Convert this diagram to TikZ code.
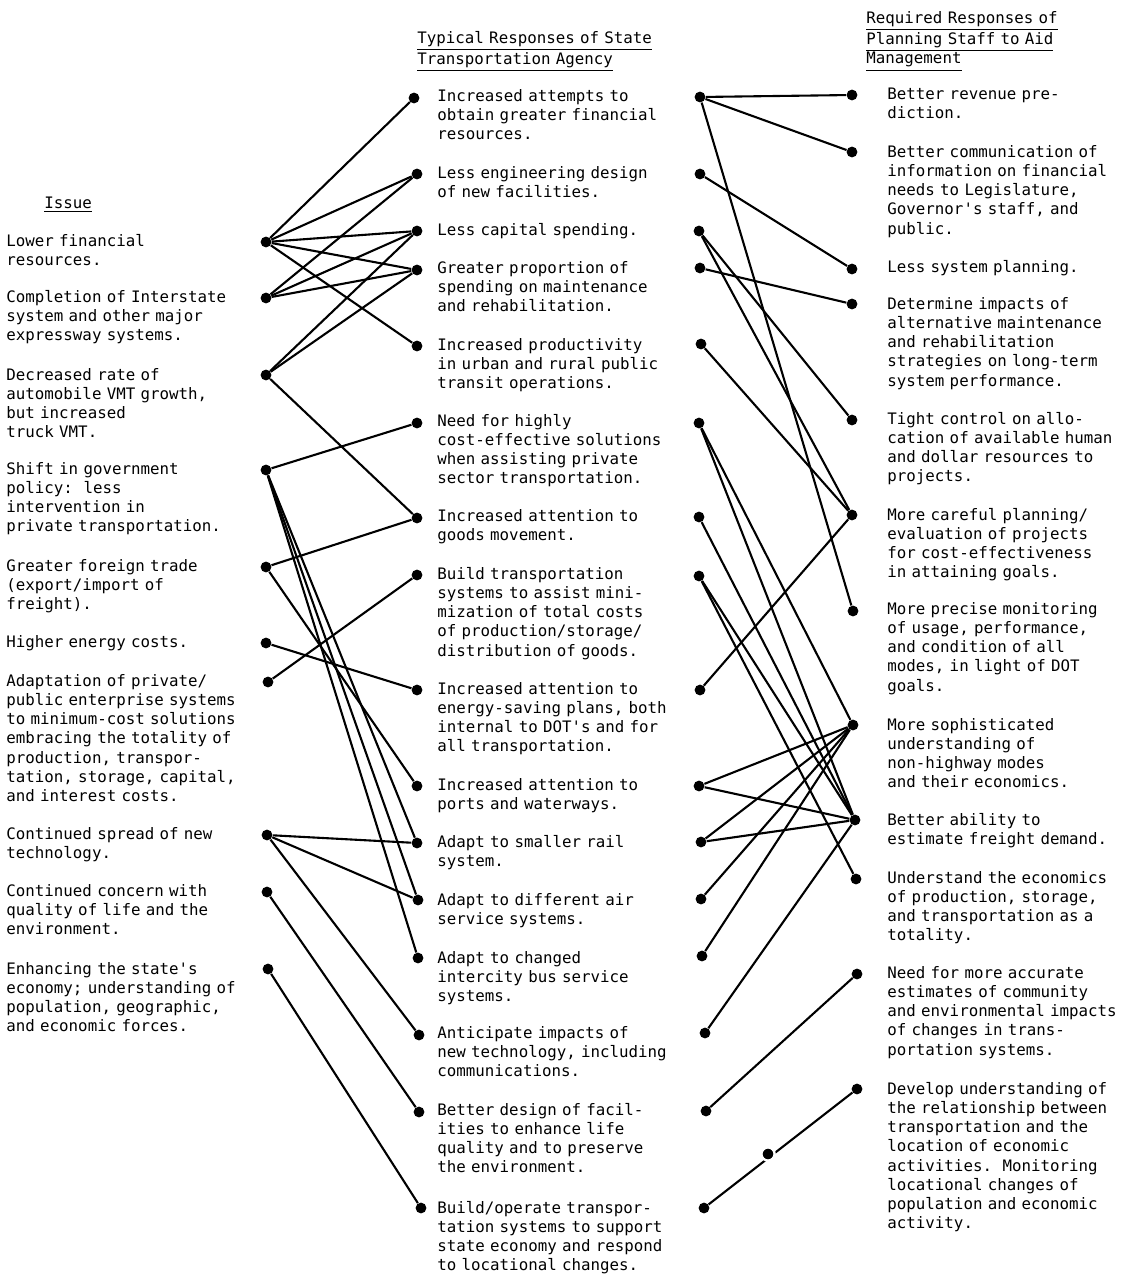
\documentclass[tikz,border=0pt]{standalone}
\usepackage{fontspec}
\setmonofont{DejaVu Sans Mono}
\begin{document}
\begin{tikzpicture}[
  x=0.5pt,y=-0.5pt,
  dot/.style={circle,fill=black,inner sep=0pt,minimum size=5.4pt},
  txt/.style={anchor=base west,yshift=-2.6pt,inner sep=0pt,text width=140pt,align=left,
    font=\ttfamily\frenchspacing\fontsize{7.9}{9.6}\selectfont},
  link/.style={line width=1.05pt,draw=black}
]
\useasboundingbox (0,0) rectangle (1128,1275);
% column headings
\node[txt] (hIssue) at (44,203) {\underline{Issue}};
\node[txt] (hTypical) at (417,38) {\underline{Typical Responses of State}\\\underline{Transportation Agency}};
\node[txt] (hRequired) at (866,18) {\underline{Required Responses of}\\\underline{Planning Staff to Aid}\\\underline{Management}};
% issues
\node[txt] (isT1) at (6,241) {Lower financial\\resources.};
\node[txt] (isT2) at (6,297) {Completion of Interstate\\system and other major\\expressway systems.};
\node[txt] (isT3) at (6,375) {Decreased rate of\\automobile VMT growth,\\but increased\\truck VMT.};
\node[txt] (isT4) at (6,469) {Shift in government\\policy:~~less\\intervention in\\private transportation.};
\node[txt] (isT5) at (6,566) {Greater foreign trade\\(export/import of\\freight).};
\node[txt] (isT6) at (6,642) {Higher energy costs.};
\node[txt] (isT7) at (6,681) {Adaptation of private/\\public enterprise systems\\to minimum-cost solutions\\embracing the totality of\\production, transpor-\\tation, storage, capital,\\and interest costs.};
\node[txt] (isT8) at (6,834) {Continued spread of new\\technology.};
\node[txt] (isT9) at (6,891) {Continued concern with\\quality of life and the\\environment.};
\node[txt] (isT10) at (6,969) {Enhancing the state's\\economy; understanding of\\population, geographic,\\and economic forces.};
% typical responses
\node[txt] (tT1) at (437,96) {Increased attempts to\\obtain greater financial\\resources.};
\node[txt] (tT2) at (437,173) {Less engineering design\\of new facilities.};
\node[txt] (tT3) at (437,230) {Less capital spending.};
\node[txt] (tT4) at (437,268) {Greater proportion of\\spending on maintenance\\and rehabilitation.};
\node[txt] (tT5) at (437,345) {Increased productivity\\in urban and rural public\\transit operations.};
\node[txt] (tT6) at (437,421) {Need for highly\\cost-effective solutions\\when assisting private\\sector transportation.};
\node[txt] (tT7) at (437,516) {Increased attention to\\goods movement.};
\node[txt] (tT8) at (437,574) {Build transportation\\systems to assist mini-\\mization of total costs\\of production/storage/\\distribution of goods.};
\node[txt] (tT9) at (437,689) {Increased attention to\\energy-saving plans, both\\internal to DOT's and for\\all transportation.};
\node[txt] (tT10) at (437,785) {Increased attention to\\ports and waterways.};
\node[txt] (tT11) at (437,842) {Adapt to smaller rail\\system.};
\node[txt] (tT12) at (437,900) {Adapt to different air\\service systems.};
\node[txt] (tT13) at (437,958) {Adapt to changed\\intercity bus service\\systems.};
\node[txt] (tT14) at (437,1033) {Anticipate impacts of\\new technology, including\\communications.};
\node[txt] (tT15) at (437,1110) {Better design of facil-\\ities to enhance life\\quality and to preserve\\the environment.};
\node[txt] (tT16) at (437,1208) {Build/operate transpor-\\tation systems to support\\state economy and respond\\to locational changes.};
% required responses
\node[txt] (qT1) at (887,94) {Better revenue pre-\\diction.};
\node[txt] (qT2) at (887,152) {Better communication of\\information on financial\\needs to Legislature,\\Governor's staff, and\\public.};
\node[txt] (qT3) at (887,267) {Less system planning.};
\node[txt] (qT4) at (887,304) {Determine impacts of\\alternative maintenance\\and rehabilitation\\strategies on long-term\\system performance.};
\node[txt] (qT5) at (887,419) {Tight control on allo-\\cation of available human\\and dollar resources to\\projects.};
\node[txt] (qT6) at (887,515) {More careful planning/\\evaluation of projects\\for cost-effectiveness\\in attaining goals.};
\node[txt] (qT7) at (887,609) {More precise monitoring\\of usage, performance,\\and condition of all\\modes, in light of DOT\\goals.};
\node[txt] (qT8) at (887,725) {More sophisticated\\understanding of\\non-highway modes\\and their economics.};
\node[txt] (qT9) at (887,820) {Better ability to\\estimate freight demand.};
\node[txt] (qT10) at (887,878) {Understand the economics\\of production, storage,\\and transportation as a\\totality.};
\node[txt] (qT11) at (887,973) {Need for more accurate\\estimates of community\\and environmental impacts\\of changes in trans-\\portation systems.};
\node[txt] (qT12) at (887,1089) {Develop understanding of\\the relationship between\\transportation and the\\location of economic\\activities.~~Monitoring\\locational changes of\\population and economic\\activity.};
% dots
\node[dot] (is1) at (266,242) {};
\node[dot] (is2) at (266,298) {};
\node[dot] (is3) at (266,375) {};
\node[dot] (is4) at (266,470) {};
\node[dot] (is5) at (266,567) {};
\node[dot] (is6) at (266,643) {};
\node[dot] (is7) at (268,682) {};
\node[dot] (is8) at (267,835) {};
\node[dot] (is9) at (267,892) {};
\node[dot] (is10) at (268,969) {};
\node[dot] (tl1) at (414,98) {};
\node[dot] (tl2) at (417,174) {};
\node[dot] (tl3) at (417,231) {};
\node[dot] (tl4) at (417,270) {};
\node[dot] (tl5) at (417,346) {};
\node[dot] (tl6) at (417,423) {};
\node[dot] (tl7) at (417,518) {};
\node[dot] (tl8) at (417,575) {};
\node[dot] (tl9) at (417,690) {};
\node[dot] (tl10) at (417,786) {};
\node[dot] (tl11) at (417,843) {};
\node[dot] (tl12) at (418,900) {};
\node[dot] (tl13) at (418,958) {};
\node[dot] (tl14) at (419,1035) {};
\node[dot] (tl15) at (419,1112) {};
\node[dot] (tl16) at (421,1208) {};
\node[dot] (tr1) at (700,97) {};
\node[dot] (tr2) at (700,174) {};
\node[dot] (tr3) at (699,231) {};
\node[dot] (tr4) at (700,268) {};
\node[dot] (tr5) at (701,344) {};
\node[dot] (tr6) at (699,423) {};
\node[dot] (tr7) at (699,517) {};
\node[dot] (tr8) at (699,576) {};
\node[dot] (tr9) at (700,690) {};
\node[dot] (tr10) at (699,786) {};
\node[dot] (tr11) at (701,842) {};
\node[dot] (tr12) at (701,899) {};
\node[dot] (tr13) at (702,956) {};
\node[dot] (tr14) at (705,1033) {};
\node[dot] (tr15) at (706,1111) {};
\node[dot] (tr16) at (704,1208) {};
\node[dot] (rq1) at (852,95) {};
\node[dot] (rq2) at (852,152) {};
\node[dot] (rq3) at (852,269) {};
\node[dot] (rq4) at (852,304) {};
\node[dot] (rq5) at (852,420) {};
\node[dot] (rq6) at (852,515) {};
\node[dot] (rq7) at (853,611) {};
\node[dot] (rq8) at (853,725) {};
\node[dot] (rq9) at (855,820) {};
\node[dot] (rq10) at (856,879) {};
\node[dot] (rq11) at (857,974) {};
\node[dot] (rq12) at (857,1089) {};
% issues to typical responses
\draw[link] (is1)--(tl1);
\draw[link] (is1)--(tl2);
\draw[link] (is1)--(tl3);
\draw[link] (is1)--(tl4);
\draw[link] (is1)--(tl5);
\draw[link] (is2)--(tl2);
\draw[link] (is2)--(tl3);
\draw[link] (is2)--(tl4);
\draw[link] (is3)--(tl3);
\draw[link] (is3)--(tl4);
\draw[link] (is3)--(tl7);
\draw[link] (is4)--(tl6);
\draw[link] (is4)--(tl11);
\draw[link] (is4)--(tl12);
\draw[link] (is4)--(tl13);
\draw[link] (is5)--(tl7);
\draw[link] (is5)--(tl10);
\draw[link] (is6)--(tl9);
\draw[link] (is7)--(tl8);
\draw[link] (is8)--(tl11);
\draw[link] (is8)--(tl12);
\draw[link] (is8)--(tl14);
\draw[link] (is9)--(tl15);
\draw[link] (is10)--(tl16);
% typical responses to required responses
\draw[link] (tr1)--(rq1);
\draw[link] (tr1)--(rq2);
\draw[link] (tr1)--(rq7);
\draw[link] (tr2)--(rq3);
\draw[link] (tr3)--(rq5);
\draw[link] (tr3)--(rq6);
\draw[link] (tr4)--(rq4);
\draw[link] (tr5)--(rq6);
\draw[link] (tr6)--(rq8);
\draw[link] (tr6)--(rq9);
\draw[link] (tr7)--(rq9);
\draw[link] (tr8)--(rq9);
\draw[link] (tr8)--(rq10);
\draw[link] (tr9)--(rq6);
\draw[link] (tr10)--(rq8);
\draw[link] (tr10)--(rq9);
\draw[link] (tr11)--(rq8);
\draw[link] (tr11)--(rq9);
\draw[link] (tr12)--(rq8);
\draw[link] (tr13)--(rq8);
\draw[link] (tr14)--(rq9);
\draw[link] (tr15)--(rq11);
\draw[link] (tr16)--(rq12);
\node[dot,minimum size=6.6pt,draw=white,line width=1.2pt] (mid) at (768,1154) {};
\end{tikzpicture}
\end{document}
